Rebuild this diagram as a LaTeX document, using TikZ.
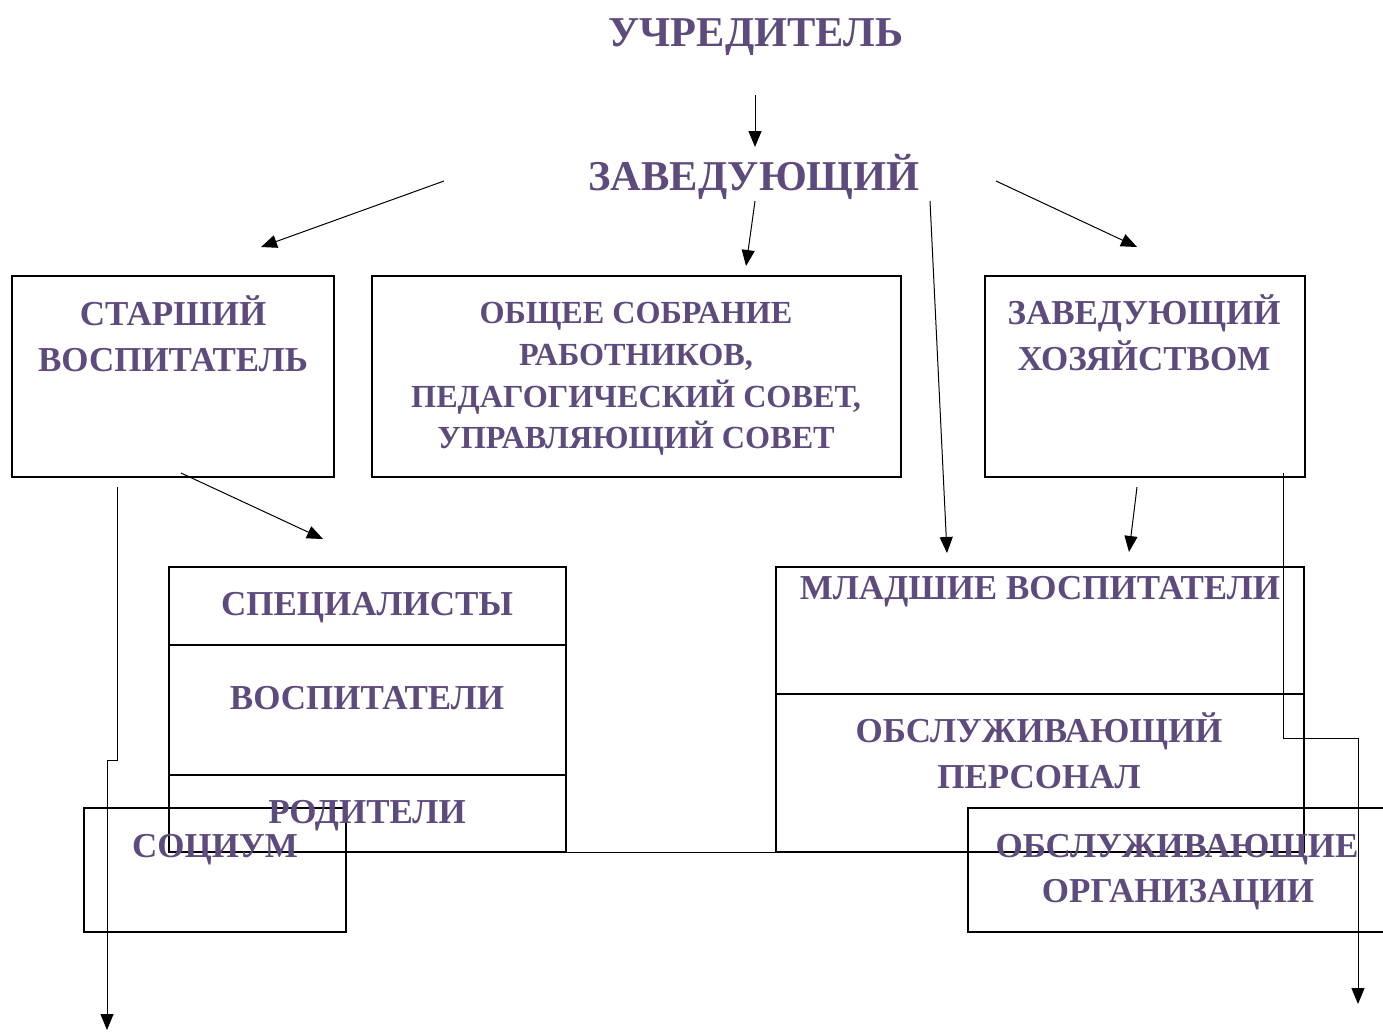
\documentclass[tikz,border=0pt]{standalone}
\usepackage{fontspec}
\setmainfont{Liberation Serif}
\usetikzlibrary{arrows.meta}
\definecolor{txt}{RGB}{94,75,126}
\tikzset{
  boxn/.style={draw, line width=1.2pt, inner sep=0pt, fill=none},
  lbl/.style={text=txt, font=\fontsize{35}{41}\selectfont\bfseries, inner sep=0pt, anchor=base},
  lbls/.style={text=txt, font=\fontsize{32.2}{38}\selectfont\bfseries, inner sep=0pt, anchor=base},
  ttl/.style={text=txt, font=\fontsize{42.5}{50}\selectfont\bfseries, inner sep=0pt, anchor=base},
  conn/.style={line width=1pt, -{Triangle[length=16pt,width=13pt]}},
  plain/.style={line width=1.2pt},
}
\begin{document}
\begin{tikzpicture}[x=1pt,y=-1pt]
\useasboundingbox (0,0) rectangle (1383,1031);
\clip (0,0) rectangle (1383,1031);

% titles
\node[ttl] (uchr) at (756,46) {УЧРЕДИТЕЛЬ};
\node[ttl] (zav) at (754,190) {ЗАВЕДУЮЩИЙ};

% top row boxes
\node[boxn, minimum width=322pt, minimum height=201pt] (svbox) at (173,376.5) {};
\node[boxn, minimum width=529pt, minimum height=201pt] (osbox) at (636.5,376.5) {};
\node[boxn, minimum width=320pt, minimum height=201pt] (zxbox) at (1145,376.5) {};

\node[lbl] (sv1) at (173,325) {СТАРШИЙ};
\node[lbl] (sv2) at (173,371) {ВОСПИТАТЕЛЬ};
\node[lbls] (os1) at (636,323) {ОБЩЕЕ СОБРАНИЕ};
\node[lbls] (os2) at (636,365) {РАБОТНИКОВ,};
\node[lbls] (os3) at (636,407) {ПЕДАГОГИЧЕСКИЙ СОВЕТ,};
\node[lbls] (os4) at (636,448) {УПРАВЛЯЮЩИЙ СОВЕТ};
\node[lbl] (zx1) at (1144,324) {ЗАВЕДУЮЩИЙ};
\node[lbl] (zx2) at (1144,370) {ХОЗЯЙСТВОМ};

% left stacked box
\node[boxn, minimum width=397pt, minimum height=78pt] (spbox) at (367.5,606) {};
\node[boxn, minimum width=397pt, minimum height=130pt] (vsbox) at (367.5,710) {};
\node[boxn, minimum width=397pt, minimum height=77pt] (rdbox) at (367.5,813.5) {};
\node[lbl] (sp) at (367,615) {СПЕЦИАЛИСТЫ};
\node[lbl] (vs) at (367,709) {ВОСПИТАТЕЛИ};

% right stacked box
\node[boxn, minimum width=528pt, minimum height=127pt] (mvbox) at (1040,630.5) {};
\node[boxn, minimum width=528pt, minimum height=158pt] (opbox) at (1040,773) {};
\node[lbl] (mv) at (1040,599) {МЛАДШИЕ ВОСПИТАТЕЛИ};
\node[lbl] (op1) at (1039,742) {ОБСЛУЖИВАЮЩИЙ};
\node[lbl] (op2) at (1039,788) {ПЕРСОНАЛ};

% joining line between the two groups
\draw[plain] (rdbox.south east) -- (opbox.south west);

% bottom boxes
\node[boxn, minimum width=262pt, minimum height=124pt] (sobox) at (215,870) {};
\node[boxn, minimum width=440pt, minimum height=124pt] (oobox) at (1188,870) {};
\node[lbl] (rd) at (367,823) {РОДИТЕЛИ};
\node[lbl] (so) at (215,857) {СОЦИУМ};
\node[lbl] (oo1) at (1177,857) {ОБСЛУЖИВАЮЩИЕ};
\node[lbl] (oo2) at (1178,902) {ОРГАНИЗАЦИИ};

% connector end points
\coordinate (a1s) at (755,95);   \coordinate (a1e) at (755,147);
\coordinate (a2s) at (444,181);  \coordinate (a2e) at (261,247);
\coordinate (a3s) at (755,201);  \coordinate (a3e) at (746,266);
\coordinate (a4s) at (930,201);  \coordinate (a4e) at (947,553);
\coordinate (a5s) at (996,181);  \coordinate (a5e) at (1137,247);
\coordinate (a6s) at (181,473);  \coordinate (a6e) at (323,539);
\coordinate (a7s) at (1137,487); \coordinate (a7e) at (1129,552);
\coordinate (l1) at (117,487); \coordinate (l2) at (117,760);
\coordinate (l3) at (107,760); \coordinate (l4) at (107,1030);
\coordinate (r1) at (1283,473); \coordinate (r2) at (1283,738);
\coordinate (r3) at (1358,738); \coordinate (r4) at (1358,1004);

\draw[conn] (a1s) -- (a1e);
\draw[conn] (a2s) -- (a2e);
\draw[conn] (a3s) -- (a3e);
\draw[conn] (a4s) -- (a4e);
\draw[conn] (a5s) -- (a5e);
\draw[conn] (a6s) -- (a6e);
\draw[conn] (a7s) -- (a7e);
\draw[conn] (l1) -- (l2) -- (l3) -- (l4);
\draw[conn] (r1) -- (r2) -- (r3) -- (r4);
\end{tikzpicture}
\end{document}
